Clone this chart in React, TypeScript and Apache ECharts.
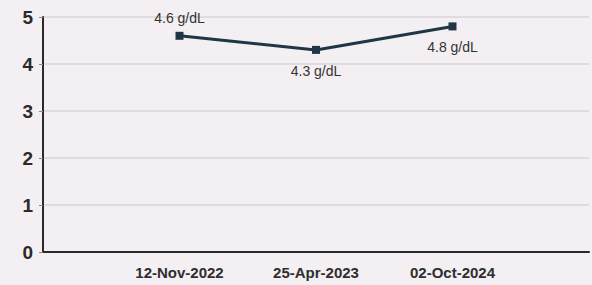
import React, { useEffect, useRef } from "react";
import * as echarts from "echarts";

const categories = ["", "12-Nov-2022", "25-Apr-2023", "02-Oct-2024", ""];
const values: (number | null)[] = [null, 4.6, 4.3, 4.8, null];
const labelPositions = ["top", "top", "bottom", "bottom", "top"];
const yTicks = [0, 1, 2, 3, 4, 5];

export default function App() {
  const ref = useRef<HTMLDivElement>(null);
  useEffect(() => {
    document.body.style.margin = "0";
    document.body.style.background = "#f3eff3";
    const chart = echarts.init(ref.current!, null, { renderer: "svg" });
    chart.setOption({
      animation: false,
      backgroundColor: "#f3eff3",
      grid: { left: 43, right: 0, top: 17, bottom: 33 },
      xAxis: {
        type: "category",
        data: categories,
        boundaryGap: false,
        axisLine: { lineStyle: { color: "#2a2a2a", width: 2 } },
        axisTick: { show: false },
        axisLabel: {
          margin: 13,
          fontFamily: "Liberation Sans, Arial",
          fontSize: 15,
          fontWeight: "bold",
          color: "#2e2e2e",
          interval: 0,
        },
        splitLine: { show: false },
      },
      yAxis: {
        type: "value",
        min: yTicks[0],
        max: yTicks[yTicks.length - 1],
        interval: 1,
        axisLine: { show: true, lineStyle: { color: "#2a2a2a", width: 2 } },
        axisTick: { show: true, length: 4, lineStyle: { color: "#888", width: 1 } },
        axisLabel: {
          margin: 10,
          fontFamily: "Liberation Sans, Arial",
          fontSize: 19,
          fontWeight: "bold",
          color: "#2a2a2a",
        },
        splitLine: { lineStyle: { color: "#d8d4d8", width: 1.5 } },
      },
      series: [
        {
          type: "line",
          data: values.map((v, i) => ({
            value: v,
            label: {
              show: v !== null,
              position: labelPositions[i],
              distance: labelPositions[i] === "top" ? 7 : 10,
              formatter: (p: any) => `${p.value} g/dL`,
              fontFamily: "Liberation Sans, Arial",
              fontSize: 14,
              color: "#333",
            },
          })),
          symbol: "rect",
          symbolSize: 8,
          lineStyle: { color: "#1f3645", width: 3 },
          itemStyle: { color: "#1f3645" },
          connectNulls: false,
        },
      ],
    });
    return () => chart.dispose();
  }, []);
  return <div ref={ref} style={{ width: 592, height: 285 }} />;
}
